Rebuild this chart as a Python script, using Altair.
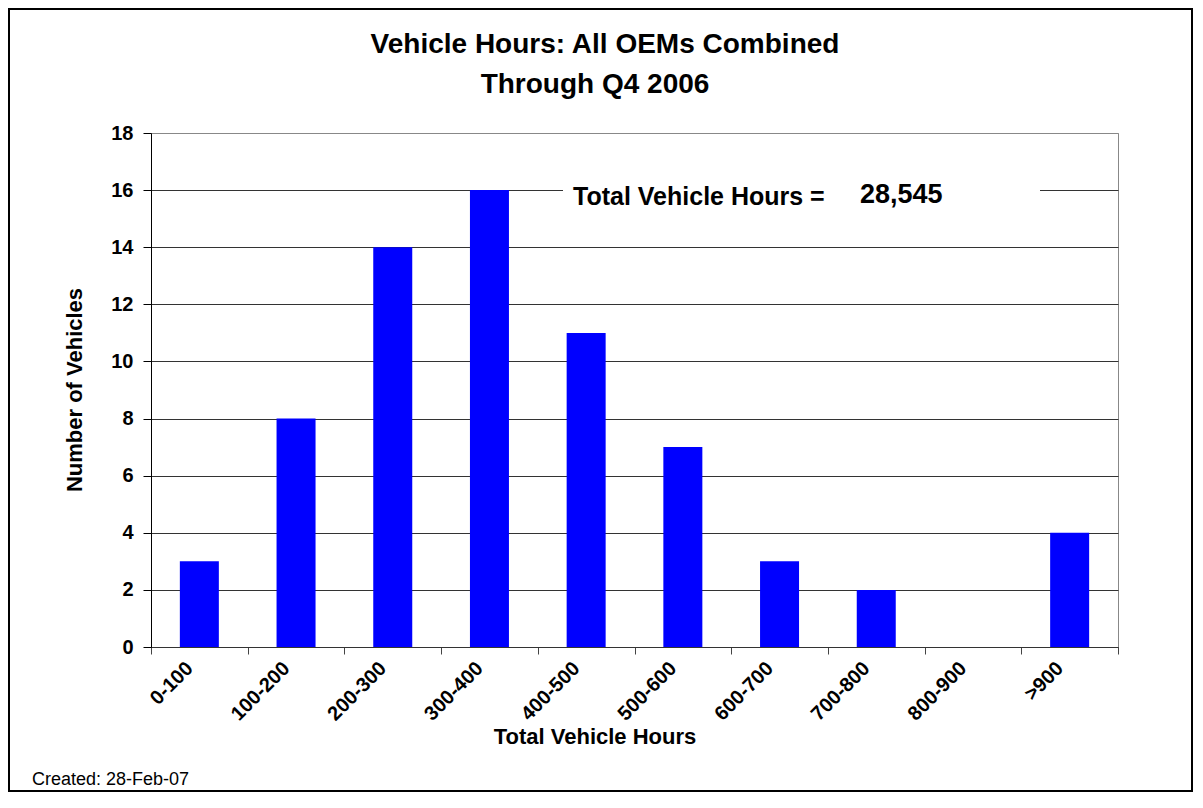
import altair as alt
import pandas as pd

# ---- data ----
categories = ["0-100", "100-200", "200-300", "300-400", "400-500",
              "500-600", "600-700", "700-800", "800-900", ">900"]
counts = [3, 8, 14, 16, 11, 7, 3, 2, 0, 4]
y_ticks = [0, 2, 4, 6, 8, 10, 12, 14, 16, 18]

title_lines = ["Vehicle Hours: All OEMs Combined", "Through Q4 2006"]
annotation_label = "Total Vehicle Hours ="
annotation_value = "28,545"
x_title = "Total Vehicle Hours"
y_title = "Number of Vehicles"
created_note = "Created: 28-Feb-07"

W, H = 967, 514
FONT = "Liberation Sans"

df = pd.DataFrame({"range": categories, "count": counts})


def text_layer(txt, x, y, size, weight="bold", align="center", angle=0, baseline="middle"):
    return alt.Chart(pd.DataFrame({"t": [txt]})).mark_text(
        font=FONT, fontSize=size, fontWeight=weight, align=align,
        baseline=baseline, angle=angle, color="black"
    ).encode(x=alt.value(x), y=alt.value(y), text="t:N")


one = pd.DataFrame({"k": [0]})

border = alt.Chart(one).mark_rect(fill="transparent", stroke="black", strokeWidth=2).encode(
    x=alt.value(-142), x2=alt.value(W + 74), y=alt.value(-124), y2=alt.value(H + 144)
)

bars = alt.Chart(df).mark_bar(color="#0000FF", size=39).encode(
    x=alt.X("range:N", sort=categories,
            scale=alt.Scale(paddingInner=0, paddingOuter=0),
            axis=alt.Axis(title=None, labelAngle=-45, tickBand="extent",
                          labelAlign="right", labelBaseline="middle",
                          labelFont=FONT, labelFontSize=20, labelFontWeight="bold",
                          labelColor="black", tickColor="#444", tickSize=7,
                          domainColor="#333", labelPadding=11, labelOffset=-10,
                          grid=False)),
    y=alt.Y("count:Q", scale=alt.Scale(domain=[0, 18], nice=False),
            axis=alt.Axis(title=None, values=y_ticks, labelFont=FONT,
                          labelFontSize=20, labelFontWeight="bold", labelColor="black",
                          tickColor="black", tickSize=8, domainColor="black",
                          gridColor=alt.condition("datum.value == 18",
                                                  alt.value("#888"), alt.value("#333")),
                          labelPadding=10)),
)

box = alt.Chart(one).mark_rect(fill="white").encode(
    x=alt.value(412), x2=alt.value(889), y=alt.value(47), y2=alt.value(81)
)

chart = alt.layer(
    bars,
    box,
    border,
    text_layer(annotation_label, 422, 64, 25, align="left"),
    text_layer(annotation_value, 709, 62, 27, align="left"),
    text_layer(title_lines[0], 454, -88, 28),
    text_layer(title_lines[1], 444, -48, 28),
    text_layer(x_title, 444, 604, 22),
    text_layer(y_title, -76, H / 2, 22, angle=270),
    text_layer(created_note, -119, 652, 18, weight="normal", align="left", baseline="alphabetic"),
).properties(
    width=W, height=H,
    autosize=alt.AutoSizeParams(type="none"),
    padding={"left": 143, "top": 125, "right": 75, "bottom": 145},
).configure_view(stroke="#888", strokeWidth=1)

chart.save("out.html", embed_options={"renderer": "svg", "actions": False})
